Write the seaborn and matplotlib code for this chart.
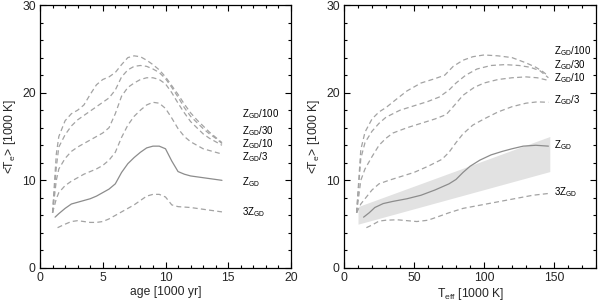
import numpy as np
import pandas as pd
import matplotlib
matplotlib.use("Agg")
import matplotlib.pyplot as plt
from matplotlib.ticker import MultipleLocator
import seaborn as sns

# ---------------- data: left panel (age) ----------------
age_dash = [1.0, 1.3, 1.5, 2.0, 2.5, 3.0, 3.5, 4.0, 4.5, 5.0, 5.5, 6.0, 6.5, 7.0, 7.5,
            8.0, 8.5, 9.0, 9.5, 10.0, 10.5, 11.0, 11.5, 12.0, 12.5, 13.0, 13.5, 14.0, 14.5]
left_z100 = [6.3, 13.0, 15.0, 16.8, 17.6, 18.0, 18.6, 19.8, 20.9, 21.5, 21.8, 22.3, 23.2, 24.0, 24.2,
             24.1, 23.7, 23.2, 22.6, 21.8, 20.8, 19.8, 18.7, 17.7, 16.9, 16.2, 15.5, 14.9, 14.3]
left_z30 = [6.3, 11.5, 13.8, 15.2, 16.2, 16.9, 17.4, 17.9, 18.4, 18.9, 19.4, 20.3, 21.8, 22.6, 23.0,
            23.1, 23.0, 22.7, 22.3, 21.6, 20.6, 19.5, 18.3, 17.3, 16.6, 15.9, 15.3, 14.8, 14.2]
left_z10 = [6.3, 10.0, 11.3, 12.5, 13.3, 13.8, 14.2, 14.6, 15.0, 15.4, 16.0, 17.6, 19.6, 20.6, 21.1,
            21.5, 21.7, 21.7, 21.5, 21.0, 20.0, 18.8, 17.7, 16.7, 16.0, 15.3, 14.8, 14.4, 14.0]
left_z3 = [6.3, 7.9, 8.6, 9.4, 9.9, 10.3, 10.7, 11.0, 11.3, 11.7, 12.3, 13.2, 14.9, 16.3, 17.3,
           18.0, 18.6, 18.9, 18.8, 18.2, 17.1, 15.9, 15.0, 14.4, 14.0, 13.6, 13.4, 13.2, 13.0]
age_solid = [1.2, 1.5, 2.0, 2.5, 3.0, 3.5, 4.0, 4.5, 5.0, 5.5, 6.0, 6.5, 7.0, 7.5,
             8.0, 8.5, 9.0, 9.5, 10.0, 10.5, 11.0, 11.5, 12.0, 12.5, 13.0, 13.5, 14.0, 14.5]
left_z1 = [5.8, 6.2, 6.8, 7.3, 7.5, 7.7, 7.9, 8.2, 8.6, 9.0, 9.6, 10.9, 11.9, 12.6,
           13.2, 13.7, 13.9, 13.9, 13.6, 12.2, 11.0, 10.7, 10.5, 10.4, 10.3, 10.2, 10.1, 10.0]
age_3z = [1.4, 2.0, 2.5, 3.0, 3.5, 4.0, 4.5, 5.0, 5.5, 6.0, 6.5, 7.0, 7.5,
          8.0, 8.5, 9.0, 9.5, 10.0, 10.5, 11.0, 11.5, 12.0, 12.5, 13.0, 13.5, 14.0, 14.5]
left_3z = [4.6, 5.0, 5.3, 5.4, 5.3, 5.2, 5.2, 5.3, 5.6, 6.0, 6.4, 6.8, 7.2,
           7.7, 8.2, 8.4, 8.4, 8.1, 7.2, 7.0, 6.95, 6.9, 6.8, 6.7, 6.6, 6.5, 6.4]

# ---------------- data: right panel (Teff) ----------------
teff_z100 = [9, 12, 15, 20, 25, 30, 37, 45, 55, 65, 72, 78, 85, 92, 100, 110, 120, 130, 137, 142, 146]
right_z100 = [6.3, 13.5, 15.5, 17.0, 17.8, 18.3, 19.2, 20.2, 21.1, 21.6, 22.0, 23.0, 23.7, 24.1,
              24.3, 24.2, 24.0, 23.4, 22.9, 22.4, 21.9]
teff_z30 = [9, 12, 15, 20, 25, 30, 40, 50, 60, 68, 75, 80, 87, 95, 105, 115, 125, 133, 140, 146]
right_z30 = [6.3, 12.5, 14.3, 15.6, 16.5, 17.2, 18.0, 18.5, 19.0, 19.5, 20.3, 21.1, 22.0, 22.7,
             23.1, 23.2, 23.1, 22.9, 22.5, 21.7]
teff_z10 = [9, 12, 15, 20, 25, 30, 35, 45, 55, 65, 73, 78, 85, 93, 100, 110, 120, 130, 138, 146]
right_z10 = [6.3, 10.0, 11.3, 12.7, 14.0, 14.8, 15.4, 16.0, 16.5, 17.0, 17.5, 18.4, 19.7, 20.6,
             21.1, 21.5, 21.7, 21.8, 21.7, 21.4]
teff_z3 = [9, 12, 16, 20, 25, 32, 40, 50, 60, 70, 75, 80, 85, 92, 100, 110, 120, 130, 138, 146]
right_z3 = [6.3, 7.3, 8.1, 8.9, 9.6, 10.0, 10.4, 10.9, 11.6, 12.4, 13.2, 14.3, 15.3, 16.3,
            17.0, 17.8, 18.4, 18.8, 18.95, 18.9]
teff_z1 = [14, 18, 22, 28, 35, 45, 55, 65, 75, 80, 85, 90, 97, 105, 113, 120, 128, 137, 146]
right_z1 = [5.8, 6.3, 6.9, 7.35, 7.6, 7.9, 8.3, 8.9, 9.6, 10.1, 10.9, 11.6, 12.3, 12.9,
            13.3, 13.6, 13.9, 14.0, 13.9]
teff_3z = [16, 20, 25, 30, 38, 45, 52, 60, 68, 75, 85, 95, 105, 115, 125, 135, 146]
right_3z = [4.6, 4.9, 5.35, 5.45, 5.5, 5.4, 5.3, 5.45, 5.9, 6.3, 6.8, 7.1, 7.4, 7.7, 8.0, 8.3, 8.5]

band_teff = [10, 147]
band_lo = [5.0, 11.0]
band_hi = [7.0, 15.0]

labels = ["Z$_{\\rm GD}$/100", "Z$_{\\rm GD}$/30", "Z$_{\\rm GD}$/10",
          "Z$_{\\rm GD}$/3", "Z$_{\\rm GD}$", "3Z$_{\\rm GD}$"]
left_label_y = [17.5, 15.65, 14.15, 12.65, 9.8, 6.4]
right_label_y = [24.75, 23.2, 21.65, 19.1, 14.0, 8.7]

# ---------------- style ----------------
sns.set_style("ticks")
plt.rcParams["font.family"] = ["Liberation Sans", "DejaVu Sans"]
plt.rcParams["mathtext.fontset"] = "custom"
plt.rcParams["mathtext.rm"] = "Liberation Sans"
plt.rcParams["mathtext.it"] = "Liberation Sans"
plt.rcParams["mathtext.default"] = "regular"

fig = plt.figure(figsize=(6.0, 3.03), dpi=100)
axL = fig.add_axes([40 / 600, 35 / 303, 251 / 600, 263 / 303])
axR = fig.add_axes([344 / 600, 35 / 303, 252 / 600, 263 / 303])

dash_col = "#a3a3a3"
solid_col = "#8c8c8c"
dash_ls = (0, (4.0, 2.6))
lw = 0.9


def draw(ax, x, y, dashed=True):
    sns.lineplot(x=x, y=y, ax=ax, sort=False, estimator=None,
                 color=dash_col if dashed else solid_col,
                 linestyle=dash_ls if dashed else "-", linewidth=lw)


# left panel
for yv in [left_z100, left_z30, left_z10, left_z3]:
    draw(axL, age_dash, yv)
draw(axL, age_solid, left_z1, dashed=False)
draw(axL, age_3z, left_3z)
for lab, yy in zip(labels, left_label_y):
    axL.text(16.1, yy, lab, fontsize=7.0, va="center", ha="left", color="black")

# right panel
axR.fill_between(band_teff, band_lo, band_hi, color="#e2e2e2", linewidth=0, zorder=0)
draw(axR, teff_z100, right_z100)
draw(axR, teff_z30, right_z30)
draw(axR, teff_z10, right_z10)
draw(axR, teff_z3, right_z3)
draw(axR, teff_z1, right_z1, dashed=False)
draw(axR, teff_3z, right_3z)
for lab, yy in zip(labels, right_label_y):
    axR.text(150, yy, lab, fontsize=7.0, va="center", ha="left", color="black")

axL.set_xlim(0, 20)
axR.set_xlim(0, 180)
axL.xaxis.set_major_locator(MultipleLocator(5))
axL.xaxis.set_minor_locator(MultipleLocator(1))
axR.xaxis.set_major_locator(MultipleLocator(50))
axR.xaxis.set_minor_locator(MultipleLocator(10))
axL.set_xlabel("age [1000 yr]", fontsize=8.7, labelpad=1)
axR.set_xlabel("T$_{\\rm eff}$ [1000 K]", fontsize=8.7, labelpad=1)

for ax in (axL, axR):
    ax.set_ylim(0, 30)
    ax.yaxis.set_major_locator(MultipleLocator(10))
    ax.yaxis.set_minor_locator(MultipleLocator(2))
    ax.set_ylabel("<T$_e$> [1000 K]", fontsize=8.7, labelpad=3)
    ax.tick_params(which="both", direction="in", top=True, right=True,
                   labelsize=8.7, width=0.8, color="black", pad=3)
    ax.tick_params(which="major", length=4.5)
    ax.tick_params(which="minor", length=2.2)
    for s in ax.spines.values():
        s.set_linewidth(0.9)
        s.set_color("black")

fig.savefig("out.png", dpi=100)
